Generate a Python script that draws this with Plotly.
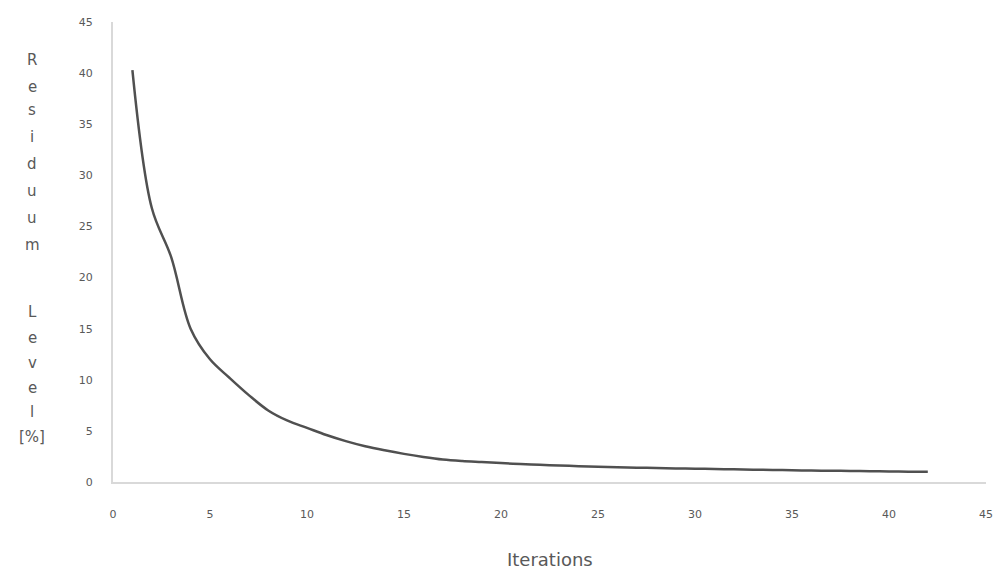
import plotly.graph_objects as go

iterations = list(range(1, 43))
residuum = [40.3, 26.8, 22.0, 15.0, 12.0, 10.2, 8.5, 7.0, 6.0, 5.3,
            4.6, 4.0, 3.5, 3.1, 2.75, 2.45, 2.2, 2.05, 1.95, 1.85,
            1.75, 1.68, 1.62, 1.55, 1.5, 1.45, 1.4, 1.37, 1.33, 1.3,
            1.27, 1.24, 1.21, 1.18, 1.15, 1.12, 1.1, 1.08, 1.05, 1.03,
            1.01, 1.0]
tick_vals = [0, 5, 10, 15, 20, 25, 30, 35, 40, 45]
y_title_lines = ["R", "e", "s", "i", "d", "u", "u", "m", "", "L", "e", "v", "e", "l", "[%]"]

W, H = 1005, 572
ML, MR, MT, MB = 113, 17, 22, 90

fig = go.Figure()
fig.add_trace(go.Scatter(x=iterations, y=residuum, mode="lines",
                         line=dict(color="#505050", width=2.5, shape="spline", smoothing=1.0),
                         showlegend=False))

font_col = "#595959"
fig.update_layout(
    width=W, height=H,
    margin=dict(l=ML, r=MR, t=MT, b=MB),
    paper_bgcolor="white", plot_bgcolor="white",
    font=dict(family="DejaVu Sans", color=font_col),
    xaxis=dict(range=[0, 45], tickvals=tick_vals, showgrid=False, zeroline=False,
               showline=True, linecolor="#d9d9d9", linewidth=2,
               tickfont=dict(size=11, color=font_col), ticks="",
               ticklabelstandoff=21),
    yaxis=dict(range=[0, 45], tickvals=tick_vals, showgrid=False, zeroline=False,
               showline=True, linecolor="#d9d9d9", linewidth=2,
               tickfont=dict(size=11, color=font_col), ticks="",
               ticklabelstandoff=16),
)

# x-axis title
fig.add_annotation(text="Iterations", xref="paper", yref="paper",
                   x=0.5, y=-(559 - (H - MB)) / (H - MT - MB),
                   showarrow=False, font=dict(size=18, color=font_col),
                   xanchor="center", yanchor="middle")

# vertical stacked y-axis title
plot_h = H - MT - MB
y_positions = [60, 87, 110, 137, 164, 191, 218, 245, 0, 312, 338, 363, 388, 412, 437]
for txt, py in zip(y_title_lines, y_positions):
    if not txt:
        continue
    fig.add_annotation(text=txt, xref="paper", yref="paper",
                       x=-(ML - 32) / (W - ML - MR), y=((H - MB) - py) / plot_h,
                       showarrow=False, font=dict(size=15, color=font_col),
                       xanchor="center", yanchor="middle")

fig.write_html("out.html", config={"displayModeBar": False},
               post_script="document.body.style.margin='0';document.body.style.overflow='hidden';")
